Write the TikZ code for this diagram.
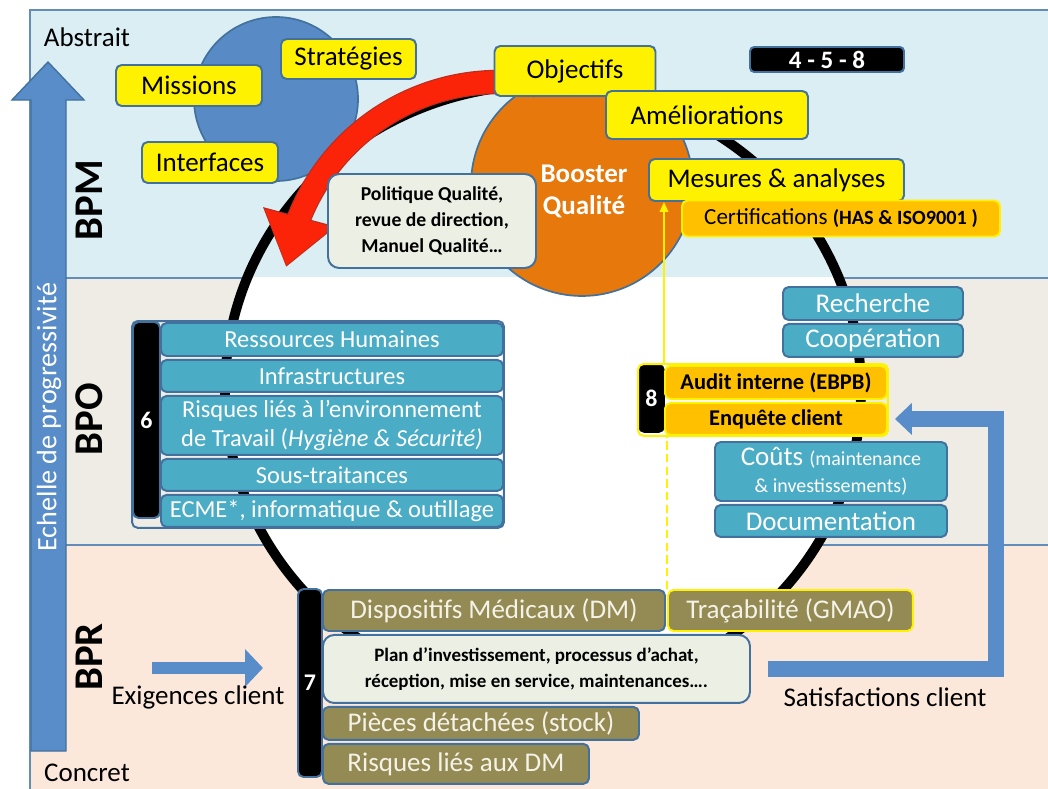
\documentclass[tikz,border=0pt]{standalone}
\usepackage{fontspec}
\setmainfont{Carlito}
\usepackage{xcolor}
\usetikzlibrary{arrows.meta, bending, positioning, fit}

\definecolor{bpmblue}{RGB}{219,238,244}
\definecolor{bpobeige}{RGB}{238,236,228}
\definecolor{bprpeach}{RGB}{252,232,219}
\definecolor{framecol}{RGB}{100,140,185}
\definecolor{boxborder}{RGB}{65,113,156}
\definecolor{tealfill}{RGB}{75,172,198}
\definecolor{olivefill}{RGB}{148,138,84}
\definecolor{olivetext}{RGB}{245,243,232}
\definecolor{goldfill}{RGB}{255,192,0}
\definecolor{notefill}{RGB}{236,240,228}
\definecolor{steelfill}{RGB}{88,139,198}
\definecolor{boosterfill}{RGB}{230,120,12}
\definecolor{arrowblue}{RGB}{88,141,201}
\definecolor{arrowred}{RGB}{252,36,8}
\definecolor{arrowredrim}{RGB}{190,45,30}

\newcommand{\pxu}{0.025cm}

\begin{document}
\begin{tikzpicture}[
  x=\pxu, y=-\pxu,
  box/.style={rectangle, draw=boxborder, line width=1.4pt, rounded corners=4pt,
              align=center, inner sep=1pt, font=\fontsize{19.2}{23}\selectfont},
  ybox/.style={box, fill=yellow},
  tealbox/.style={box, fill=tealfill, text=white},
  bpobox/.style={tealbox, minimum width=342*\pxu, font=\fontsize{17.4}{21}\selectfont},
  olivebox/.style={box, fill=olivefill, text=olivetext},
  goldbox/.style={box, fill=goldfill, draw=yellow, minimum width=222*\pxu,
                  font=\bfseries\fontsize{16}{19}\selectfont},
  numbar/.style={box, fill=black, text=white, font=\bfseries\fontsize{17}{20}\selectfont},
  notebox/.style={box, fill=notefill, rounded corners=8pt,
                  font=\bfseries\fontsize{14}{18.5}\selectfont},
  band/.style={draw=framecol, line width=1.2pt},
  bandlabel/.style={rotate=90, font=\bfseries\fontsize{29}{30}\selectfont},
  sidelabel/.style={font=\fontsize{19.2}{23}\selectfont},
  fatarrow/.style={draw=arrowblue, line width=12pt, -{Triangle[length=12pt, width=22pt]}},
  yconn/.style={draw=yellow, line width=1.4pt}
]
\useasboundingbox (0,0) rectangle (1048,789);

\filldraw[band, fill=bpmblue] (30,10) rectangle (1060,278);
\filldraw[band, fill=bpobeige] (30,278) rectangle (1060,545);
\filldraw[band, fill=bprpeach] (30,545) rectangle (1060,800);
\begin{scope}
  \clip (0,277) rectangle (1048,789);
  \fill[white] (543,390) ellipse [x radius=318, y radius=305];
\end{scope}

\filldraw[fill=arrowblue, draw=boxborder, line width=1pt]
  (31,751) -- (31,100) -- (12,100) -- (48,62) -- (84,100) -- (66,100) -- (66,751) -- cycle;
\node[rotate=90, text=white, font=\fontsize{20}{22}\selectfont] (echelle) at (49,417) {Echelle de progressivité};

\node[bandlabel] (bpm) at (89,200) {BPM};
\node[bandlabel] (bpo) at (89,419) {BPO};
\node[bandlabel] (bpr) at (89,657) {BPR};
\node[sidelabel] (abstrait) at (87,37) {Abstrait};
\node[sidelabel] (concret) at (87,773) {Concret};

\filldraw[fill=steelfill, draw=boxborder, line width=1.2pt] (276,99) circle [radius=82];
\draw[line width=7pt] (543,390) ellipse [x radius=318, y radius=305];
\filldraw[fill=boosterfill, draw=boxborder, line width=1.2pt] (582,185) circle [radius=111];
\node[text=white, align=center, font=\bfseries\fontsize{19.2}{22.8}\selectfont] (booster) at (584,191) {Booster\\Qualité};

\draw[arrowredrim, line width=17.4pt, -{Triangle[length=37pt, width=51pt, flex]}]
  (499,297) ++(-80:215) arc [start angle=-80, end angle=-172, radius=215];
\draw[arrowred, line width=15.6pt, -{Triangle[length=35pt, width=48pt, flex]}]
  (499,297) ++(-80:215) arc [start angle=-80, end angle=-171.6, radius=215];

\node[ybox, minimum width=146*\pxu, minimum height=41*\pxu] (missions) at (189,85.5) {Missions};
\node[ybox, minimum width=135*\pxu, minimum height=40*\pxu] (strategies) at (348.5,59) {Stratégies};
\node[ybox, minimum width=136*\pxu, minimum height=41*\pxu] (interfaces) at (210,162.5) {Interfaces};
\node[ybox, minimum width=161*\pxu, minimum height=50*\pxu] (objectifs) at (575,71) {Objectifs};
\node[ybox, minimum width=202*\pxu, minimum height=48*\pxu] (ameliorations) at (707,115) {Améliorations};
\node[ybox, minimum width=255*\pxu, minimum height=42*\pxu] (mesures) at (776.5,180) {Mesures \& analyses};
\node[goldbox, minimum width=318*\pxu, minimum height=36*\pxu, font=\fontsize{16.4}{19}\selectfont] (certif) at (841,218.5) {%
  Certifications {\bfseries\fontsize{14.4}{17}\selectfont(HAS \& ISO9001 )}};
\node[box, fill=black, text=white, inner sep=0pt, rounded corners=3pt,
      minimum width=154*\pxu, minimum height=25*\pxu,
      font=\bfseries\fontsize{17.8}{20}\selectfont] (codes) at (827,59.5) {4 - 5 - 8};
\node[notebox, minimum width=208*\pxu, minimum height=94*\pxu] (politique) at (432,221) {%
  Politique Qualité,\\revue de direction,\\Manuel Qualité…};

\node[numbar, minimum width=27*\pxu, minimum height=196*\pxu] (sixbar) at (146.5,420) {6};
\node[bpobox, minimum height=33*\pxu, anchor=north west] (rh) at (160,322) {Ressources Humaines};
\node[bpobox, minimum height=32*\pxu, below=0.05cm of rh] (infra) {Infrastructures};
\node[bpobox, minimum height=59*\pxu, below=0.05cm of infra] (risques) {%
  Risques liés à l’environnement\\de Travail (\textit{Hygiène \& Sécurité)}};
\node[bpobox, minimum height=32*\pxu, below=0.05cm of risques] (soustrait) {Sous-traitances};
\node[bpobox, minimum height=32*\pxu, below=0.05cm of soustrait] (ecme) {ECME*, informatique \& outillage};
\node[fit=(sixbar)(rh)(ecme), draw=boxborder, line width=1.4pt, rounded corners=4pt, inner sep=0pt] (sixgrp) {};

\node[tealbox, minimum width=180*\pxu, minimum height=33*\pxu] (recherche) at (873,303.5) {Recherche};
\node[tealbox, minimum width=180*\pxu, minimum height=33*\pxu, below=0.05cm of recherche] (cooperation) {Coopération};
\node[numbar, draw=black, minimum width=25*\pxu, minimum height=67*\pxu] (eightbar) at (651.5,398.5) {8};
\node[goldbox, minimum height=33*\pxu, anchor=north west] (audit) at (664,365) {Audit interne (EBPB)};
\node[goldbox, minimum height=32*\pxu, below=0.05cm of audit] (enquete) {Enquête client};
\node[fit=(eightbar)(audit)(enquete), draw=yellow, line width=1.4pt, rounded corners=4pt, inner sep=0pt] (eightgrp) {};
\node[tealbox, minimum width=232*\pxu, minimum height=59*\pxu, font=\fontsize{19.2}{19}\selectfont] (couts) at (831,471.5) {%
  Coûts {\fontsize{14.2}{17}\selectfont(maintenance}\\{\fontsize{14.2}{17}\selectfont\&~investissements)}};
\node[tealbox, minimum width=232*\pxu, minimum height=32*\pxu, below=0.05cm of couts] (documentation) {Documentation};

\node[numbar, minimum width=24*\pxu, minimum height=188*\pxu] (sevenbar) at (310,683) {7};
\node[olivebox, minimum width=342*\pxu, minimum height=41*\pxu, anchor=north west] (dm) at (322,589) {Dispositifs Médicaux (DM)};
\node[olivebox, draw=yellow, minimum width=245*\pxu, minimum height=41*\pxu, right=0.025cm of dm] (traca) {Traçabilité (GMAO)};
\node[notebox, minimum width=427*\pxu, minimum height=68*\pxu, font=\bfseries\fontsize{13.5}{18.5}\selectfont,
      below=0.05cm of dm.south west, anchor=north west] (plan) {%
  Plan d’investissement, processus d’achat,\\réception, mise en service, maintenances….};
\node[olivebox, minimum width=316*\pxu, minimum height=33*\pxu, below=0.05cm of plan.south west, anchor=north west] (pieces) {Pièces détachées (stock)};
\node[olivebox, minimum width=266*\pxu, minimum height=40*\pxu, below=0.05cm of pieces.south west, anchor=north west] (risquesdm) {Risques liés aux DM};

\coordinate (exigtail) at (152,668);
\coordinate (exighead) at (263,668);
\draw[fatarrow, line width=9.2pt, -{Triangle[length=12.8pt, width=26.3pt]}] (exigtail) -- (exighead);
\node[sidelabel] (exigences) at (198,697) {Exigences client};
\node[sidelabel] (satisf) at (885,697) {Satisfactions client};
\draw[fatarrow] ([xshift=0.425cm]plan.east) -- ++(228,0) |- ([xshift=0.175cm]enquete.east);

\draw[yconn, -{Triangle[length=7pt, width=6pt]}] (audit.north west) -- (audit.north west |- mesures.south);
\draw[yconn, dash pattern=on 6pt off 3pt] (traca.north west) -- (traca.north west |- eightgrp.south);
\end{tikzpicture}
\end{document}
